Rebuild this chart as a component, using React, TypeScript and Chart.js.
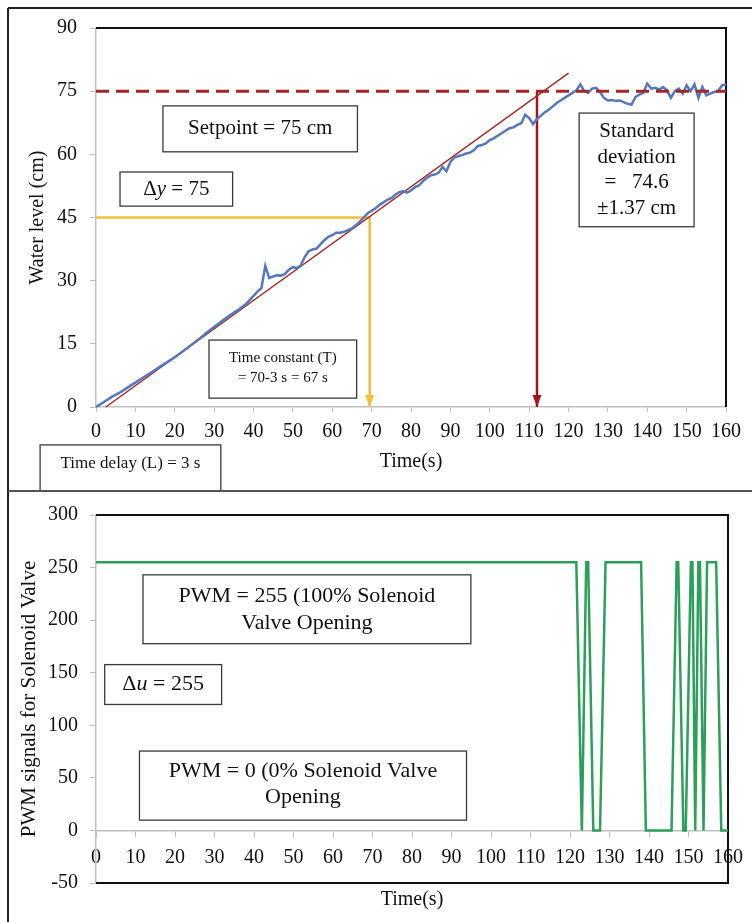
import React, { useEffect, useRef } from "react";
import { Chart, registerables } from "chart.js";

Chart.register(...registerables);

const FONT = '"Liberation Serif", "Times New Roman", serif';

// ---------- Top chart data (water level) ----------
const levelTime = [
  0, 2, 4, 6, 8, 10, 12, 14, 16, 18, 20, 22, 24, 26, 28, 30, 32, 34, 36, 38,
  40, 41, 42, 43, 44, 45, 46, 47, 48, 49, 50, 51, 52, 53, 54, 55, 56, 57, 58, 59,
  60, 61, 62, 63, 64, 65, 66, 67, 68, 69, 70, 71, 72, 73, 74, 75, 76, 77, 78, 79,
  80, 81, 82, 83, 84, 85, 86, 87, 88, 89, 90, 91, 92, 93, 94, 95, 96, 97, 98, 99,
  100, 101, 102, 103, 104, 105, 106, 107, 108, 109, 110, 111, 112, 113, 114, 115, 116, 117, 118, 119,
  120, 121, 122, 123, 124, 125, 126, 127, 128, 129, 130, 131, 132, 133, 134, 135, 136, 137, 138, 139,
  140, 141, 142, 143, 144, 145, 146, 147, 148, 149, 150, 151, 152, 153, 154, 155, 156, 157, 158, 159, 160,
];
const levelValue = [
  0, 1.2, 2.4, 3.4, 4.6, 5.8, 7.0, 8.2, 9.4, 10.6, 11.8, 13.2, 14.6, 16.0, 17.6, 19.0, 20.4, 21.8, 23.0, 24.4,
  26.4, 27.4, 28.2, 33.5, 30.6, 31.0, 31.3, 31.2, 31.6, 32.6, 33.2, 33.0, 33.6, 35.6, 37.0, 37.4, 37.6, 38.6, 39.6, 40.4,
  40.8, 41.4, 41.4, 41.6, 42.0, 42.4, 43.2, 44.0, 45.0, 46.0, 46.6, 47.2, 48.0, 48.6, 49.2, 49.6, 50.4, 51.0, 51.2, 50.9,
  51.4, 52.2, 52.6, 53.6, 54.4, 55.0, 55.2, 55.6, 57.0, 56.0, 58.2, 59.2, 59.6, 59.8, 60.2, 60.4, 61.0, 62.0, 62.2, 62.6,
  63.4, 63.8, 64.4, 65.0, 65.6, 66.2, 66.4, 67.0, 67.4, 69.4, 68.6, 67.2, 68.4, 69.2, 70.0, 70.6, 71.4, 72.2, 72.8, 73.4,
  74.0, 74.6, 75.2, 76.6, 75.0, 74.6, 75.6, 75.8, 74.8, 73.4, 72.8, 72.9, 72.7, 72.8, 72.4, 72.0, 71.8, 73.6, 74.2, 74.6,
  76.8, 75.6, 75.8, 75.4, 76.0, 75.2, 73.4, 75.0, 75.6, 74.4, 76.4, 75.0, 76.6, 73.4, 76.0, 74.0, 74.4, 74.8, 75.0, 76.4, 76.6,
];
const setpointTime = [0, 160];
const setpointValue = [75, 75];
const tangentTime = [2.5, 120];
const tangentValue = [0, 79.3];
const yellowTime = [0, 69.5, 69.5];
const yellowValue = [45, 45, 0];
const redTime = [112, 112];
const redValue = [75, 0];

const timeTicks = [0, 10, 20, 30, 40, 50, 60, 70, 80, 90, 100, 110, 120, 130, 140, 150, 160];
const levelTicks = [0, 15, 30, 45, 60, 75, 90];

// ---------- Bottom chart data (PWM) ----------
const pwmTime = [
  0, 121.6, 123, 124.1, 124.6, 125.9, 127.6, 129, 138, 139.2, 145.7, 147, 147.4, 148.7, 149.3,
  150.6, 151, 151.7, 152.5, 152.9, 153.8, 154.7, 157, 158.3, 160,
];
const pwmValue = [
  255, 255, 0, 255, 255, 0, 0, 255, 255, 0, 0, 255, 255, 0, 0,
  255, 255, 0, 255, 255, 0, 255, 255, 0, 0,
];
const pwmTicks = [-50, 0, 50, 100, 150, 200, 250, 300];

const zip = (xs: number[], ys: number[]) => xs.map((x, i) => ({ x, y: ys[i] }));

type Seg = { text: string; italic?: boolean };
type Box = {
  x0: number; x1: number; y0: number; y1: number;
  lines: Seg[][]; size: number; lh: number; dy?: number;
};

const plain = (s: string): Seg[] => [{ text: s }];

// annotation boxes (positions in data units)
const topBoxes: Box[] = [
  { x0: 17, x1: 66.4, y0: 71.5, y1: 60.6, lines: [plain("Setpoint = 75 cm")], size: 21, lh: 25 },
  { x0: 6.1, x1: 34.7, y0: 55.8, y1: 47.7, lines: [[{ text: "Δ" }, { text: "y", italic: true }, { text: " = 75" }]], size: 21, lh: 25 },
  { x0: 122.7, x1: 151.9, y0: 69.8, y1: 42.8, lines: [plain("Standard"), plain("deviation"), plain("=   74.6"), plain("±1.37 cm")], size: 21, lh: 25.5 },
  { x0: 28.7, x1: 66.2, y0: 15.9, y1: 2.1, lines: [plain("Time constant (T)"), plain("= 70-3 s = 67 s")], size: 15, lh: 20, dy: -1 },
  { x0: -14.2, x1: 31.7, y0: -9, y1: -20, lines: [plain("Time delay (L) = 3 s")], size: 17, lh: 20, dy: -5 },
];
const bottomBoxes: Box[] = [
  { x0: 11.9, x1: 94.9, y0: 243.1, y1: 177.6, lines: [plain("PWM = 255 (100% Solenoid"), plain("Valve Opening")], size: 22, lh: 27 },
  { x0: 2.2, x1: 31.8, y0: 157.7, y1: 119.8, lines: [[{ text: "Δ" }, { text: "u", italic: true }, { text: " = 255" }]], size: 22, lh: 26 },
  { x0: 11.0, x1: 93.8, y0: 75.5, y1: 9.8, lines: [plain("PWM = 0 (0% Solenoid Valve"), plain("Opening")], size: 22, lh: 26, dy: -1 },
];

const arrows = [
  { x: 69.5, y: 0, color: "#F2BF3A" },
  { x: 112, y: 0, color: "#A5141E" },
];

function drawRich(ctx: CanvasRenderingContext2D, segs: Seg[], cx: number, cy: number, size: number) {
  const fonts = segs.map((s) => `${s.italic ? "italic " : ""}${size}px ${FONT}`);
  let total = 0;
  const widths = segs.map((s, i) => {
    ctx.font = fonts[i];
    const w = ctx.measureText(s.text).width;
    total += w;
    return w;
  });
  let x = cx - total / 2;
  ctx.textAlign = "left";
  ctx.textBaseline = "middle";
  ctx.fillStyle = "#111";
  segs.forEach((s, i) => {
    ctx.font = fonts[i];
    ctx.fillText(s.text, x, cy);
    x += widths[i];
  });
}

function makePlugin(boxes: Box[], arrowList: typeof arrows, frameBottom: boolean) {
  return {
    id: "annot",
    beforeDatasetsDraw(chart: any) {
      const { ctx, chartArea: a } = chart;
      ctx.save();
      ctx.strokeStyle = "#111";
      ctx.lineWidth = 2;
      ctx.beginPath();
      ctx.moveTo(a.left, a.top);
      ctx.lineTo(a.right, a.top);
      ctx.lineTo(a.right, a.bottom);
      if (frameBottom) ctx.lineTo(a.left, a.bottom);
      ctx.stroke();
      ctx.restore();
    },
    afterDatasetsDraw(chart: any) {
      const { ctx } = chart;
      const xs = chart.scales.x;
      const ys = chart.scales.y;
      ctx.save();
      arrowList.forEach((ar) => {
        const px = xs.getPixelForValue(ar.x);
        const py = ys.getPixelForValue(ar.y);
        ctx.fillStyle = ar.color;
        ctx.beginPath();
        ctx.moveTo(px, py);
        ctx.lineTo(px - 4.5, py - 12);
        ctx.lineTo(px + 4.5, py - 12);
        ctx.closePath();
        ctx.fill();
      });
      boxes.forEach((b) => {
        const l = xs.getPixelForValue(b.x0);
        const r = xs.getPixelForValue(b.x1);
        const t = ys.getPixelForValue(b.y0);
        const bt = ys.getPixelForValue(b.y1);
        ctx.fillStyle = "#fff";
        ctx.fillRect(l, t, r - l, bt - t);
        ctx.strokeStyle = "#3a3a3a";
        ctx.lineWidth = 1.3;
        ctx.strokeRect(l, t, r - l, bt - t);
        const cx = (l + r) / 2;
        const cy = (t + bt) / 2 + (b.dy || 0);
        const n = b.lines.length;
        b.lines.forEach((segs, i) => {
          drawRich(ctx, segs, cx, cy + (i - (n - 1) / 2) * b.lh, b.size);
        });
      });
      ctx.restore();
    },
  };
}

const tickFont = { family: FONT, size: 20 };
const grey = "#BFBFBF";

function TopChart() {
  const ref = useRef<HTMLCanvasElement | null>(null);
  useEffect(() => {
    if (!ref.current) return;
    const chart = new Chart(ref.current, {
      type: "line",
      data: {
        datasets: [
          { label: "Setpoint", data: zip(setpointTime, setpointValue), borderColor: "#A3262A", borderWidth: 3, borderDash: [13, 7], pointRadius: 0, clip: false } as any,
          { label: "Water level", data: zip(levelTime, levelValue), borderColor: "#5577BB", borderWidth: 2.5, pointRadius: 0, tension: 0, clip: false } as any,
          { label: "Tangent", data: zip(tangentTime, tangentValue), borderColor: "#A52A2A", borderWidth: 1.5, pointRadius: 0, clip: false } as any,
          { label: "T", data: zip(yellowTime, yellowValue), borderColor: "#F2BF3A", borderWidth: 2.5, pointRadius: 0, clip: false } as any,
          { label: "L", data: zip(redTime, redValue), borderColor: "#A5141E", borderWidth: 2.5, pointRadius: 0, clip: false } as any,
        ],
      },
      options: {
        animation: false,
        responsive: true,
        maintainAspectRatio: false,
        layout: { padding: { left: 0, right: 26, top: 28, bottom: 0 } },
        plugins: { legend: { display: false }, tooltip: { enabled: false } },
        scales: {
          x: {
            type: "linear",
            min: 0,
            max: 160,
            afterBuildTicks: (s: any) => { s.ticks = timeTicks.map((v) => ({ value: v })); },
            afterFit: (s: any) => { s.height = 84; },
            grid: { display: true, drawOnChartArea: false, tickLength: 5, color: grey },
            border: { color: grey, width: 1.5 },
            ticks: { font: tickFont, color: "#111", padding: 8, maxRotation: 0, autoSkip: false },
            title: { display: true, text: "Time(s)", font: { family: FONT, size: 20 }, color: "#111", padding: { top: 0, bottom: 17 } },
          },
          y: {
            min: 0,
            max: 90,
            afterBuildTicks: (s: any) => { s.ticks = levelTicks.map((v) => ({ value: v })); },
            afterFit: (s: any) => { s.width = 96; },
            grid: { display: true, drawOnChartArea: false, tickLength: 6, color: grey },
            border: { color: grey, width: 1.5 },
            ticks: { font: tickFont, color: "#111", padding: 13 },
            title: { display: true, text: "Water level (cm)", font: { family: FONT, size: 20 }, color: "#111", padding: { top: 26, bottom: 0 } },
          },
        },
      } as any,
      plugins: [makePlugin(topBoxes, arrows, false)],
    });
    return () => chart.destroy();
  }, []);
  return (
    <div style={{ position: "absolute", left: 0, top: 0, width: 752, height: 491 }}>
      <canvas ref={ref} />
    </div>
  );
}

function BottomChart() {
  const ref = useRef<HTMLCanvasElement | null>(null);
  useEffect(() => {
    if (!ref.current) return;
    const chart = new Chart(ref.current, {
      type: "line",
      data: {
        datasets: [
          { label: "PWM", data: zip(pwmTime, pwmValue), xAxisID: "x", yAxisID: "y", borderColor: "#2CA05A", borderWidth: 2.5, pointRadius: 0, tension: 0, clip: false } as any,
        ],
      },
      options: {
        animation: false,
        responsive: true,
        maintainAspectRatio: false,
        layout: { padding: { left: 0, right: 23, top: 23, bottom: 0 } },
        plugins: { legend: { display: false }, tooltip: { enabled: false } },
        scales: {
          x: {
            type: "linear",
            position: "bottom",
            min: 0,
            max: 160,
            afterFit: (s: any) => { s.height = 39; },
            grid: { display: false },
            border: { display: false },
            ticks: { display: false },
            title: { display: true, text: "Time(s)", font: { family: FONT, size: 20 }, color: "#111", padding: { top: 0, bottom: 10 } },
          },
          x2: {
            type: "linear",
            position: { y: 0 },
            min: 0,
            max: 160,
            afterBuildTicks: (s: any) => { s.ticks = timeTicks.map((v) => ({ value: v })); },
            grid: { display: true, drawOnChartArea: false, tickLength: 6, color: grey },
            border: { color: grey, width: 1.5 },
            ticks: { font: tickFont, color: "#111", padding: 9, maxRotation: 0, autoSkip: false },
          },
          y: {
            min: -50,
            max: 300,
            afterBuildTicks: (s: any) => { s.ticks = pwmTicks.map((v) => ({ value: v })); },
            afterFit: (s: any) => { s.width = 96; },
            grid: { display: true, drawOnChartArea: false, tickLength: 6, color: grey },
            border: { color: grey, width: 1.5 },
            ticks: { font: tickFont, color: "#111", padding: 12 },
            title: { display: true, text: "PWM signals for Solenoid Valve", font: { family: FONT, size: 21 }, color: "#111", padding: { top: 17, bottom: 0 } },
          },
        },
      } as any,
      plugins: [makePlugin(bottomBoxes, [], true)],
    });
    return () => chart.destroy();
  }, []);
  return (
    <div style={{ position: "absolute", left: 0, top: 491, width: 752, height: 431 }}>
      <canvas ref={ref} />
    </div>
  );
}

export default function App() {
  return (
    <div style={{ position: "absolute", left: 0, top: 0, width: 752, height: 922, background: "#fff", overflow: "hidden" }}>
      <TopChart />
      <BottomChart />
      <div style={{ position: "absolute", left: 8, top: 7, width: 744, height: 2, background: "#222" }} />
      <div style={{ position: "absolute", left: 7, top: 8, width: 2, height: 914, background: "#222" }} />
      <div style={{ position: "absolute", left: 8, top: 490, width: 744, height: 2, background: "#555" }} />
    </div>
  );
}
